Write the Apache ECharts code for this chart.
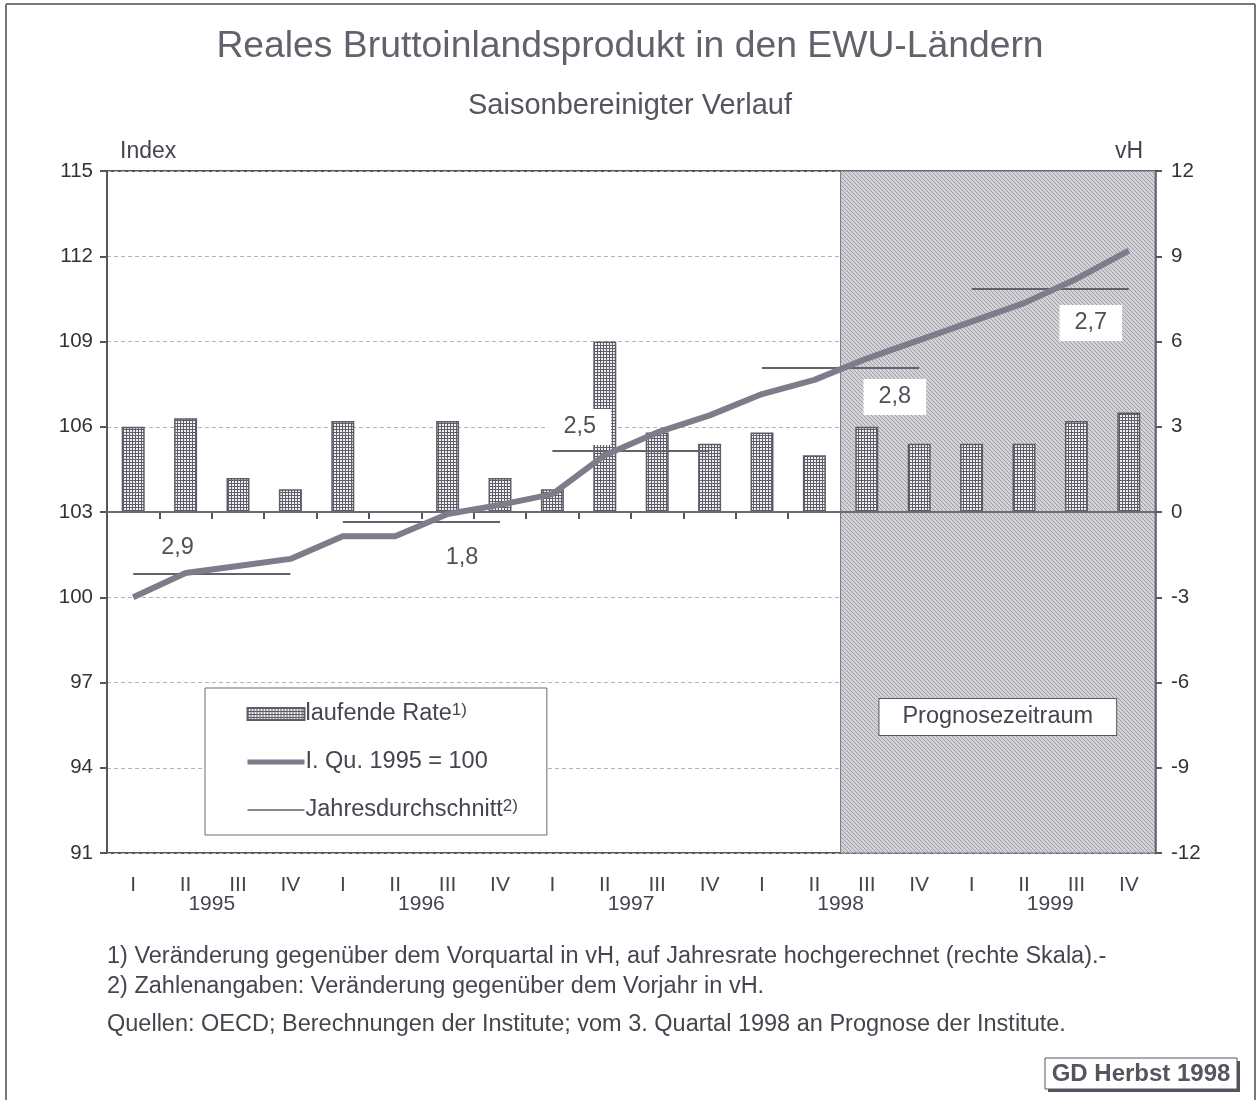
<!DOCTYPE html>
<html><head><meta charset="utf-8">
<script src="https://cdn.jsdelivr.net/npm/echarts@6/dist/echarts.min.js"></script>
<style>html,body{margin:0;padding:0;background:#fff}#c{width:1260px;height:1100px}</style>
</head><body><div id="c"></div>
<script>
// ---- data ----
var years = ['1995', '1996', '1997', '1998', '1999'];
var quarterLabels = ['I', 'II', 'III', 'IV'];
var categories = [];
years.forEach(function (y) { quarterLabels.forEach(function (q) { categories.push(y + ' ' + q); }); });
var laufendeRate = [3.0, 3.3, 1.2, 0.8, 3.2, 0.0, 3.2, 1.2, 0.8, 6.0, 2.8, 2.4, 2.8, 2.0, 3.0, 2.4, 2.4, 2.4, 3.2, 3.5];
var indexValues = [100.0, 100.85, 101.1, 101.35, 102.15, 102.15, 102.93, 103.25, 103.63, 105.0, 105.8, 106.4, 107.15, 107.65, 108.4, 109.05, 109.7, 110.35, 111.2, 112.2];
var annualAvg = [100.82, 102.65, 105.15, 108.07, 110.85];
var annualRate = ['2,9', '1,8', '2,5', '2,8', '2,7'];
var forecastStart = '1998 III';
var forecastEnd = '1999 IV';

// ---- patterns ----
function barPattern() {
  var c = document.createElement('canvas'); c.width = 3; c.height = 3;
  var g = c.getContext('2d');
  g.fillStyle = '#f0f0f2'; g.fillRect(0, 0, 3, 3);
  g.fillStyle = '#5e5e68'; g.fillRect(0, 0, 3, 1); g.fillRect(0, 0, 1, 3);
  return c;
}
function hatchPattern() {
  var c = document.createElement('canvas'); c.width = 4; c.height = 4;
  var g = c.getContext('2d');
  g.fillStyle = '#d3d3d7'; g.fillRect(0, 0, 4, 4);
  g.fillStyle = '#9e9ea4';
  for (var i = 0; i < 4; i++) g.fillRect(i, i, 1, 1);
  return c;
}
var FONT = '"Liberation Sans", Arial, sans-serif';
var TXT = '#45454f';

var chart = echarts.init(document.getElementById('c'));

var labelOffsets = [[-8, -26], [-38, 36], [-25, -24], [28, 29], [-38, 34]];
var labelAnchors = [1, 3, 1, 2, 3];
var boxed = [false, false, true, true, true];

var avgSeries = years.map(function (y, k) {
  var d = categories.map(function (c, i) { return Math.floor(i / 4) === k ? annualAvg[k] : '-'; });
  return {
    name: 'Jahresdurchschnitt', type: 'line', yAxisIndex: 0, data: d,
    symbol: 'none', z: 4,
    lineStyle: { color: '#62626c', width: 2 },
    itemStyle: { color: '#62626c' },
    markPoint: {
      symbol: 'circle', symbolSize: 1, itemStyle: { color: 'rgba(0,0,0,0)' }, z: 10,
      data: [{ coord: [categories[k * 4 + labelAnchors[k]], annualAvg[k]] }],
      label: {
        show: true, position: 'inside', offset: labelOffsets[k],
        formatter: annualRate[k], fontFamily: FONT, fontSize: 23.5, color: '#505058',
        backgroundColor: boxed[k] ? '#fff' : 'transparent',
        padding: boxed[k] ? [7, 15, 5, 15] : 0
      }
    }
  };
});

var option = {
  animation: false,
  backgroundColor: '#fff',
  textStyle: { fontFamily: FONT },
  title: [
    { text: 'Reales Bruttoinlandsprodukt in den EWU-Ländern', left: 'center', top: 23,
      textStyle: { fontFamily: FONT, fontSize: 37.3, fontWeight: 'normal', color: '#62626c' } },
    { text: 'Saisonbereinigter Verlauf', left: 'center', top: 86,
      textStyle: { fontFamily: FONT, fontSize: 29, fontWeight: 'normal', color: '#55555f' } }
  ],
  grid: { left: 107, right: 105, top: 171, bottom: 247, show: true, borderColor: '#55555f', borderWidth: 2, backgroundColor: 'transparent' },
  legend: {
    orient: 'vertical', left: 205, top: 688, itemGap: 24, itemWidth: 57, itemHeight: 12,
    padding: [14, 29, 13, 40],
    borderColor: '#6a6a74', borderWidth: 1, backgroundColor: '#fff',
    data: [
      { name: 'laufende Rate', icon: 'rect' },
      { name: 'I. Qu. 1995 = 100', itemStyle: { opacity: 0 }, lineStyle: { width: 5, color: '#7c7c8a' } },
      { name: 'Jahresdurchschnitt', itemStyle: { opacity: 0 }, lineStyle: { width: 1.5, color: '#62626c' } }
    ],
    formatter: function (n) {
      if (n === 'laufende Rate') return n + '{s|1)}';
      if (n === 'Jahresdurchschnitt') return n + '{s|2)}';
      return n;
    },
    textStyle: { fontFamily: FONT, fontSize: 23.5, color: TXT, padding: [0, 0, 0, -4],
      rich: { s: { fontSize: 17, verticalAlign: 'top', lineHeight: 16, color: TXT } } }
  },
  xAxis: [
    { type: 'category', data: categories, boundaryGap: true,
      axisLine: { show: true, lineStyle: { color: '#55555f', width: 2 } },
      axisTick: { show: true, length: 7, lineStyle: { color: '#55555f', width: 2 } },
      axisLabel: { margin: 22, fontFamily: FONT, fontSize: 21, color: TXT,
        formatter: function (v) { return v.split(' ')[1]; } } },
    { type: 'category', data: years, position: 'bottom', boundaryGap: true,
      axisLine: { show: false }, axisTick: { show: false }, splitLine: { show: false },
      axisLabel: { margin: 41, fontFamily: FONT, fontSize: 21, color: TXT } }
  ],
  yAxis: [
    { type: 'value', min: 91, max: 115, interval: 3, position: 'left',
      name: 'Index', nameLocation: 'end', nameGap: 8,
      nameTextStyle: { fontFamily: FONT, fontSize: 23, color: TXT, align: 'left', padding: [0, 0, 0, 13] },
      axisLine: { show: true, lineStyle: { color: '#55555f', width: 2 } },
      axisTick: { show: true, length: 7, lineStyle: { color: '#55555f', width: 2 } },
      axisLabel: { margin: 14, fontFamily: FONT, fontSize: 20.5, color: '#333' },
      splitLine: { show: true, lineStyle: { color: '#b4b4bc', width: 1, type: [4, 3] } } },
    { type: 'value', min: -12, max: 12, interval: 3, position: 'right',
      name: 'vH', nameLocation: 'end', nameGap: 8,
      nameTextStyle: { fontFamily: FONT, fontSize: 23, color: TXT, align: 'right', padding: [0, 12, 0, 0] },
      axisLine: { show: true, lineStyle: { color: '#55555f', width: 2.5 } },
      axisTick: { show: true, length: 7, lineStyle: { color: '#55555f', width: 2 } },
      axisLabel: { margin: 16, fontFamily: FONT, fontSize: 20.5, color: '#333' },
      splitLine: { show: false } }
  ],
  series: [
    { name: 'laufende Rate', type: 'bar', yAxisIndex: 1, data: laufendeRate, barWidth: 23, z: 3,
      itemStyle: { color: { image: barPattern(), repeat: 'repeat' }, borderColor: '#5c5c66', borderWidth: 1.5 },
      markLine: { silent: true, symbol: 'none', label: { show: false },
        lineStyle: { color: '#6a6a74', width: 2, type: 'solid' }, data: [{ yAxis: 0 }] },
      markArea: { silent: true,
        itemStyle: { color: { image: hatchPattern(), repeat: 'repeat' }, borderColor: '#77777f', borderWidth: 1 },
        label: { show: true, position: 'inside', offset: [0, 205], formatter: 'Prognosezeitraum',
          fontFamily: FONT, fontSize: 23.5, color: TXT, backgroundColor: '#fff',
          borderColor: '#55555f', borderWidth: 1, padding: [7, 23, 5, 23] },
        data: [[{ xAxis: forecastStart }, { xAxis: forecastEnd }]] } },
    { name: 'I. Qu. 1995 = 100', type: 'line', yAxisIndex: 0, data: indexValues,
      symbol: 'none', z: 5, lineStyle: { color: '#7c7c8a', width: 6 }, itemStyle: { color: '#7c7c8a' } }
  ].concat(avgSeries),
  graphic: [
    { type: 'line', shape: { x1: 6, y1: 4, x2: 1255, y2: 4 }, style: { stroke: '#77777f', lineWidth: 2 } },
    { type: 'line', shape: { x1: 6, y1: 4, x2: 6, y2: 1100 }, style: { stroke: '#77777f', lineWidth: 2 } },
    { type: 'line', shape: { x1: 1255, y1: 4, x2: 1255, y2: 1100 }, style: { stroke: '#77777f', lineWidth: 2 } },
    { type: 'text', x: 107, y: 957, style: { text: '1) Veränderung gegenüber dem Vorquartal in vH, auf Jahresrate hochgerechnet (rechte Skala).-', font: '23.5px ' + FONT, fill: TXT, verticalAlign: 'middle' } },
    { type: 'text', x: 107, y: 987, style: { text: '2) Zahlenangaben: Veränderung gegenüber dem Vorjahr in vH.', font: '23.5px ' + FONT, fill: TXT, verticalAlign: 'middle' } },
    { type: 'text', x: 107, y: 1025, style: { text: 'Quellen: OECD; Berechnungen der Institute; vom 3. Quartal 1998 an Prognose der Institute.', font: '23.5px ' + FONT, fill: TXT, verticalAlign: 'middle' } },
    { type: 'rect', shape: { x: 1048, y: 1061, width: 192, height: 31 }, style: { fill: '#55555f' } },
    { type: 'rect', shape: { x: 1045, y: 1058, width: 192, height: 31 }, style: { fill: '#fff', stroke: '#55555f', lineWidth: 1 } },
    { type: 'text', x: 1141, y: 1074, style: { text: 'GD Herbst 1998', font: 'bold 24px ' + FONT, fill: '#55555f', align: 'center', verticalAlign: 'middle' } }
  ]
};
chart.setOption(option);
</script>
</body></html>
